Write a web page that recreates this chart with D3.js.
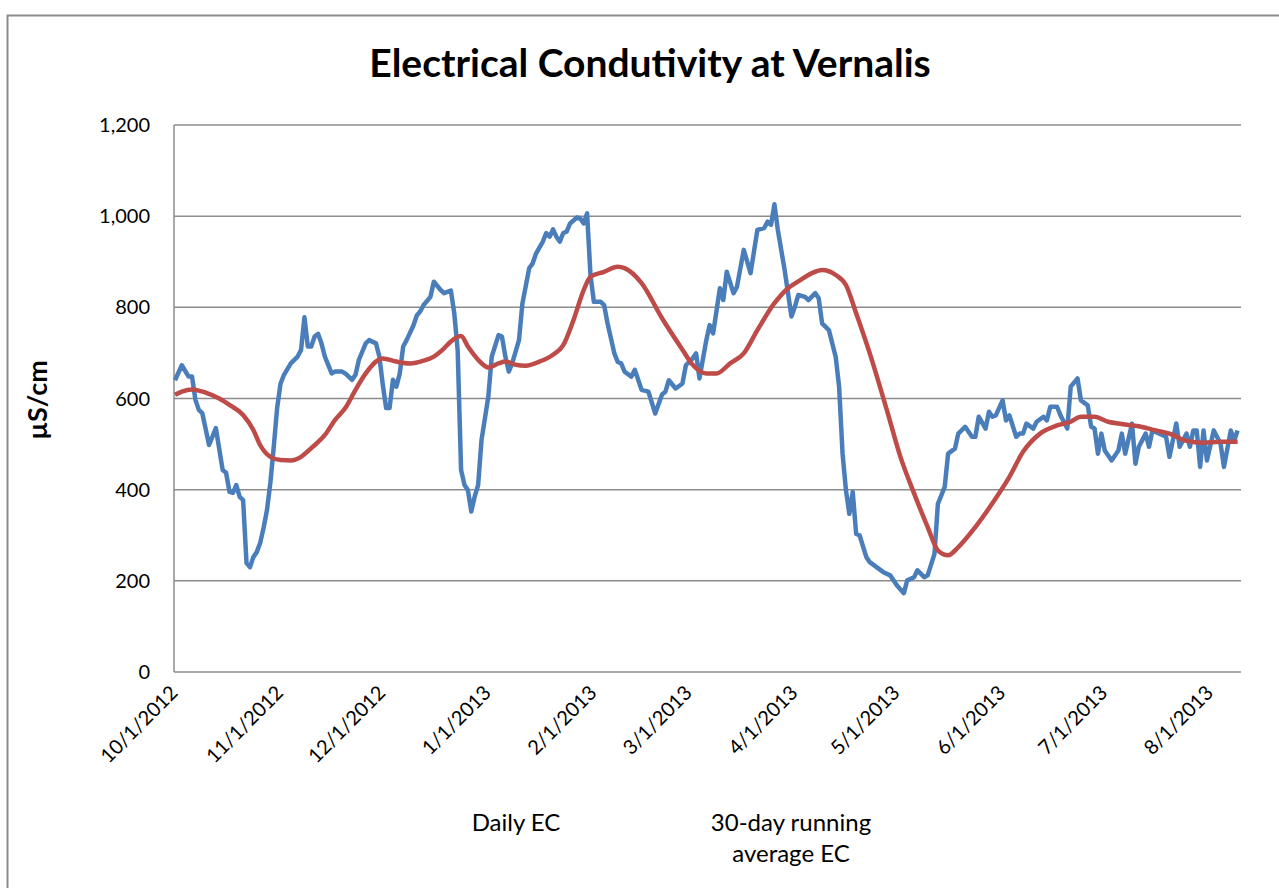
<!DOCTYPE html>
<html>
<head>
<meta charset="utf-8">
<script src="https://cdn.jsdelivr.net/npm/d3@7"></script>
<style>
  body { margin: 0; background: #fff; }
  text { font-family: Lato, "Open Sans", sans-serif; fill: #000; }
</style>
</head>
<body>
<svg id="chart" width="1279" height="888"></svg>
<script>
// start of the record, every day below is counted from here
const startDate = new Date(Date.UTC(2012, 9, 1));
const endDate = new Date(Date.UTC(2013, 7, 10));

// daily EC (days since 10/1/2012, uS/cm)
const dailyDay = [0,2,4,5,6,7,8,10,12,14,15,16,17,18,19,20,21,22,23,24,25,26,27,28,29,30,31,32,34,36,37,38,39,40,41,42,43,44,46,47,49,50,52,53,54,56,57,59,60,61,62,63,64,65,66,67,68,70,71,72,73,75,76,78,79,81,82,83,84,85,86,87,88,89,90,92,93,95,96,97,98,99,101,102,104,105,106,108,109,110,111,112,113,114,115,116,118,119,120,121,122,123,125,126,127,129,130,131,132,134,135,137,139,141,143,144,145,147,149,150,152,153,154,156,157,158,160,161,162,164,165,167,169,171,173,174,175,176,177,179,181,182,183,185,186,188,189,190,192,194,195,196,197,198,199,200,201,203,204,206,208,210,212,214,215,217,218,220,221,223,224,226,227,229,230,232,234,235,236,238,239,240,241,243,244,245,247,248,249,250,252,253,255,256,257,259,260,262,263,265,266,268,269,270,271,272,273,275,277,278,279,281,282,283,285,286,287,289,291,292,294,295,297,298,299,300,301,302,303,305,307,308,310,311,312];
const dailyEC = [640,673,648,648,597,575,568,498,535,443,437,395,393,410,384,377,239,230,252,263,283,316,355,415,494,580,633,652,677,692,706,778,714,714,736,742,721,692,655,659,659,655,641,652,685,721,728,721,692,631,579,579,641,626,655,714,728,760,782,791,805,823,856,838,831,837,787,706,443,410,399,352,385,410,509,604,692,739,736,692,659,677,728,808,886,896,918,944,963,955,971,955,944,963,966,984,997,995,984,1006,870,812,812,805,765,699,680,677,659,648,663,619,615,567,609,615,640,622,633,673,688,699,644,728,761,743,842,816,878,831,845,926,875,970,974,988,981,1026,970,882,780,801,827,823,816,831,820,765,750,691,626,480,399,347,395,303,300,252,241,230,219,212,190,173,201,208,223,208,212,259,369,406,479,490,523,538,516,516,560,534,571,560,563,596,552,563,516,523,523,545,534,549,560,552,582,582,563,534,626,644,596,585,538,534,479,523,486,464,486,523,479,545,457,494,523,494,530,523,516,472,545,494,523,494,530,530,450,530,464,530,501,450,530,508,530];

// 30-day running average EC
const avgDay = [0,2,5,9,13,16,20,23,25,28,31,34,37,40,44,47,50,53,56,59,61,65,69,73,76,79,81,84,86,89,92,95,97,100,103,107,111,114,117,120,122,126,130,132,137,143,149,152,156,159,163,167,171,176,180,183,187,190,194,197,200,204,209,213,217,221,224,227,230,235,240,245,249,254,259,263,266,270,274,278,283,288,292,297,302,307,312];
const avgEC = [608,615,620,613,600,586,564,531,498,472,465,464,472,491,520,553,579,619,655,681,688,681,677,683,692,710,725,737,714,685,668,677,681,674,672,681,696,717,772,838,867,878,889,886,853,776,707,674,655,655,677,699,750,809,842,857,875,882,871,849,787,699,575,472,392,318,267,256,274,318,370,428,483,523,541,549,560,560,549,544,539,530,523,507,503,505,505];

const yTicks = [0,200,400,600,800,1000,1200];
const seriesNames = ["Daily EC", "30-day running average EC"];

const svg = d3.select("#chart");

// outer chart frame (runs off the right/bottom edge like the picture)
svg.append("rect")
  .attr("x", 7.5).attr("y", 15.5)
  .attr("width", 1300).attr("height", 900)
  .attr("fill", "none")
  .attr("stroke", "#8c8c8c")
  .attr("stroke-width", 2);

const x = d3.scaleUtc().domain([startDate, endDate]).range([175, 1241]);
const y = d3.scaleLinear().domain([0, 1200]).range([672, 125]);

// gridlines
svg.append("g")
  .selectAll("line")
  .data(yTicks)
  .join("line")
  .attr("x1", 174).attr("x2", 1241)
  .attr("y1", d => y(d)).attr("y2", d => y(d))
  .attr("stroke", "#8c8c8c")
  .attr("stroke-width", 1.5);

// y axis line
svg.append("line")
  .attr("x1", 174).attr("x2", 174)
  .attr("y1", y(1200)).attr("y2", y(0))
  .attr("stroke", "#8c8c8c")
  .attr("stroke-width", 1.5);

// y tick labels
svg.append("g")
  .selectAll("text")
  .data(yTicks)
  .join("text")
  .attr("x", 150)
  .attr("y", d => y(d))
  .attr("dy", "0.35em")
  .attr("text-anchor", "end")
  .style("font-size", "20px")
  .text(d3.format(","));

// x tick labels, rotated
const months = x.ticks(d3.utcMonth.every(1)).filter(d => d <= new Date(Date.UTC(2013, 7, 1)));
const fmt = d3.utcFormat("%-m/%-d/%Y");
svg.append("g")
  .selectAll("text")
  .data(months)
  .join("text")
  .attr("transform", d => `translate(${x(d) + 4},${694}) rotate(-45)`)
  .attr("text-anchor", "end")
  .style("font-size", "20px")
  .text(fmt);

// lines
const parse = (days, vals) => days.map((d, i) => ({ date: d3.utcDay.offset(startDate, d), v: vals[i] }));

const line = d3.line().x(d => x(d.date)).y(d => y(d.v));
const smooth = d3.line().x(d => x(d.date)).y(d => y(d.v)).curve(d3.curveMonotoneX);

svg.append("path")
  .datum(parse(dailyDay, dailyEC))
  .attr("d", line)
  .attr("fill", "none")
  .attr("stroke", "#4a7ebb")
  .attr("stroke-width", 4.5)
  .attr("stroke-linejoin", "round");

svg.append("path")
  .datum(parse(avgDay, avgEC))
  .attr("d", smooth)
  .attr("fill", "none")
  .attr("stroke", "#be4b48")
  .attr("stroke-width", 4.5)
  .attr("stroke-linejoin", "round");

// title
svg.append("text")
  .attr("x", 650).attr("y", 77)
  .attr("text-anchor", "middle")
  .style("font-size", "39px")
  .style("font-weight", "bold")
  .text("Electrical Condutivity at Vernalis");

// y axis title
svg.append("text")
  .attr("transform", "translate(47,400) rotate(-90)")
  .attr("text-anchor", "middle")
  .style("font-size", "27px")
  .style("font-weight", "bold")
  .text("µS/cm");

// legend (text only, like the source)
svg.append("text")
  .attr("x", 516).attr("y", 831)
  .attr("text-anchor", "middle")
  .style("font-size", "24px")
  .text(seriesNames[0]);

const leg2 = svg.append("text")
  .attr("x", 791).attr("y", 831)
  .attr("text-anchor", "middle")
  .style("font-size", "24px");
leg2.append("tspan").attr("x", 791).text("30-day running");
leg2.append("tspan").attr("x", 791).attr("dy", 31).text("average EC");
</script>
</body>
</html>
